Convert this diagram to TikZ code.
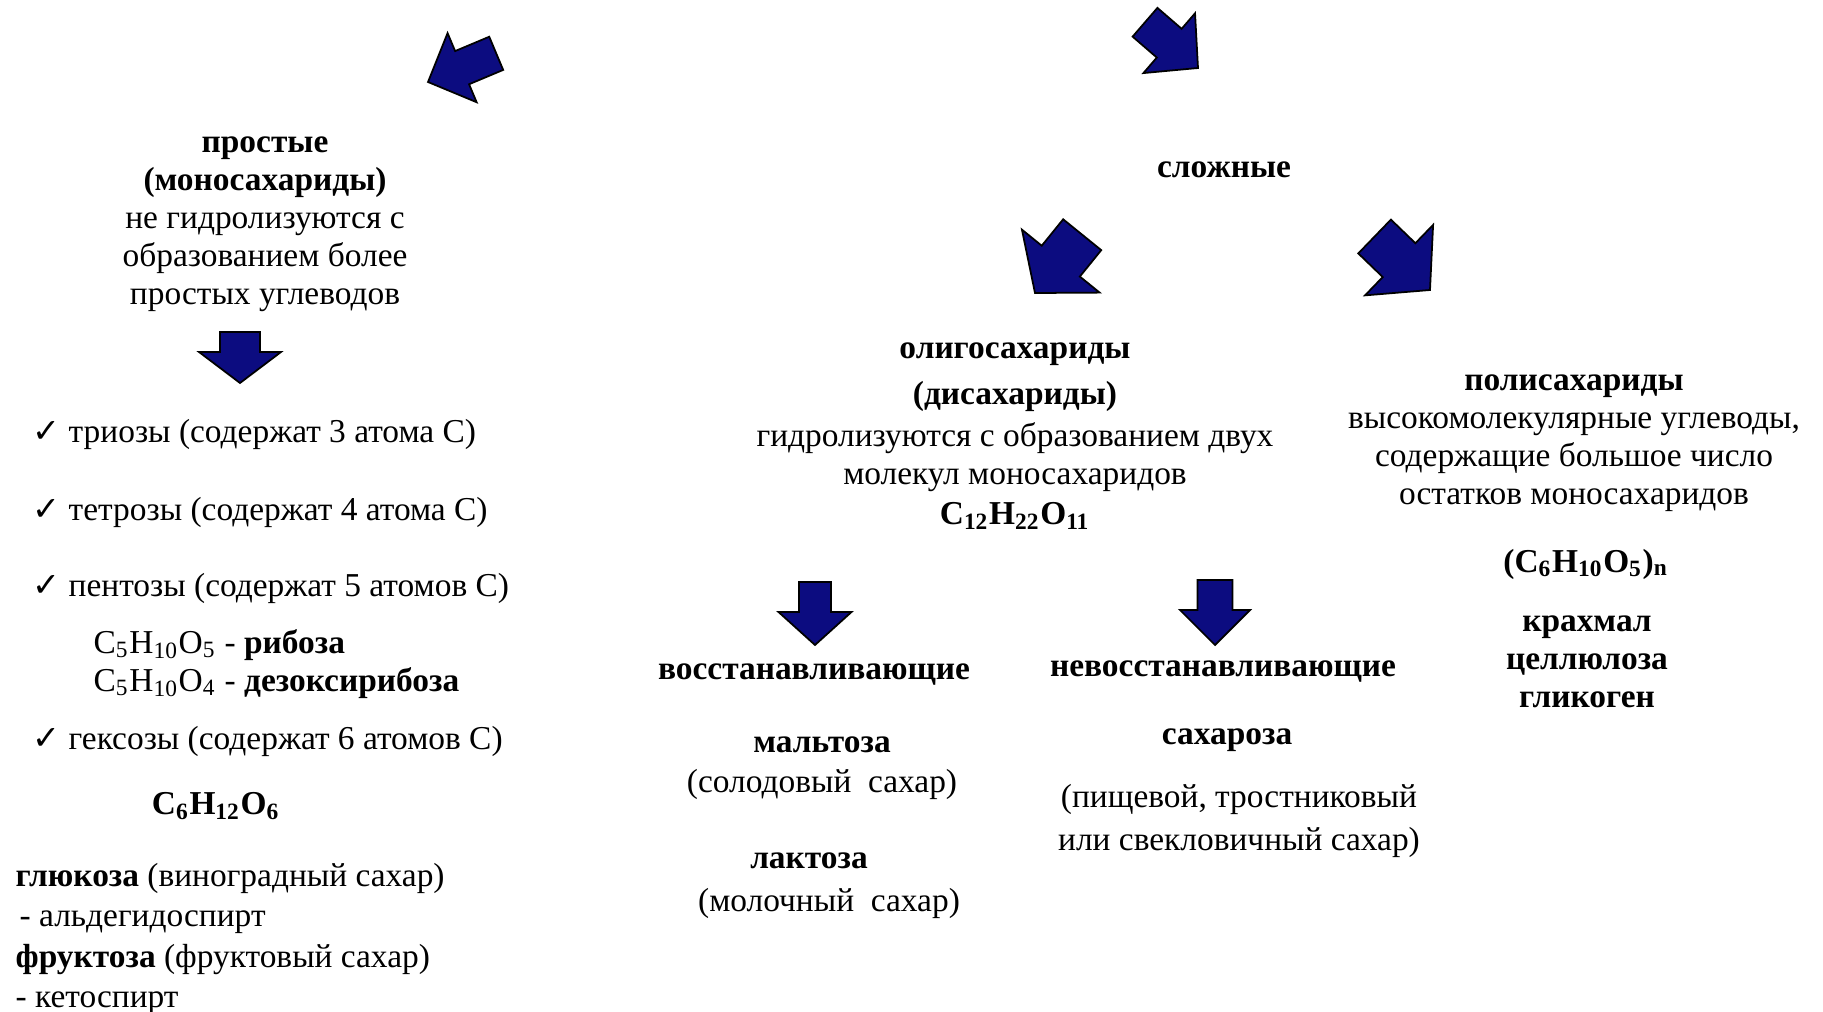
\documentclass[tikz,border=0pt]{standalone}
\usepackage{fontspec}
\setmainfont{Liberation Serif}
\newfontfamily\symfont{DejaVu Sans}
\definecolor{arrowblue}{RGB}{12,12,128}
\tikzset{
	txt/.style={inner sep=0pt, align=center, font=\fontsize{9.5pt}{10.8pt}\selectfont},
	pics/blockarrow/.style args={#1/#2/#3/#4}{code={
		\filldraw[fill=arrowblue, draw=black, line width=0.5pt, line join=miter] (0,0) -- (-#4,#2/2) -- (-#4,#1/2) -- (-#4-#3,#1/2) -- (-#4-#3,-#1/2) -- (-#4,-#1/2) -- (-#4,-#2/2) -- cycle;
	}}
}
\newcommand\chk{\makebox[0.36cm][l]{\symfont ✓}}
\begin{document}
\begin{tikzpicture}[x=0.01cm, y=-0.01cm]
	\useasboundingbox (0,0) rectangle (1823,1012);
	\pic[rotate=202.8] (arrsimple) at (428,82) {blockarrow={36/75/37/37}};
	\pic[rotate=-40.8] (arrcomplex) at (1198,68) {blockarrow={38/79/32/38}};
	\pic[rotate=231] (arroligo) at (1035,293) {blockarrow={49/100/34/41}};
	\pic[rotate=-44] (arrpoly) at (1430,290) {blockarrow={47/98/34/43}};
	\pic[rotate=-90] (arrmono) at (240,383) {blockarrow={40/82/20/31}};
	\pic[rotate=-90] (arrred) at (815,645) {blockarrow={32/73/30/33}};
	\pic[rotate=-90] (arrnonred) at (1215,645) {blockarrow={35/70/30/35}};

	\node[txt] (simple) at (265,224) {\textbf{простые}\\\textbf{(моносахариды)}\\не гидролизуются с\\образованием более\\простых углеводов};
	\node[txt, anchor=west] (triose) at (32,434) {\chk триозы (содержат 3 атома C)};
	\node[txt, anchor=west] (tetrose) at (32,512) {\chk тетрозы (содержат 4 атома C)};
	\node[txt, anchor=west] (pentose) at (32,588) {\chk пентозы (содержат 5 атомов C)};
	\node[txt, anchor=west, align=left] (ribose) at (93,664) {C\textsubscript{5}H\textsubscript{10}O\textsubscript{5} - \textbf{рибоза}\\C\textsubscript{5}H\textsubscript{10}O\textsubscript{4} - \textbf{дезоксирибоза}};
	\node[txt, anchor=west] (hexose) at (32,741) {\chk гексозы (содержат 6 атомов C)};
	\node[txt] (hexformula) at (216,806) {\textbf{C\textsubscript{6}H\textsubscript{12}O\textsubscript{6}}};
	\node[txt, anchor=west, align=left, font=\fontsize{9.5pt}{11.4pt}\selectfont] (glucose) at (15,939) {\textbf{глюкоза} (виноградный сахар)\\\hspace{0.04cm}- альдегидоспирт\\\textbf{фруктоза} (фруктовый сахар)\\- кетоспирт};

	\node[txt] (complex) at (1224,170) {\textbf{сложные}};
	\node[txt] (oligo) at (1015,377) {\textbf{олигосахариды}\\[2.3pt]\textbf{(дисахариды)}};
	\node[txt] (oligotext) at (1015,457) {гидролизуются с образованием двух\\молекул моносахаридов};
	\node[txt] (oligoformula) at (1015,516) {\textbf{C\textsubscript{12}H\textsubscript{22}O\textsubscript{11}}};
	\node[txt] (poly) at (1574,443) {\textbf{полисахариды}\\высокомолекулярные углеводы,\\содержащие большое число\\остатков моносахаридов};
	\node[txt] (polyformula) at (1586,564) {\textbf{(C\textsubscript{6}H\textsubscript{10}O\textsubscript{5})\textsubscript{n}}};
	\node[txt] (polylist) at (1587,662) {\textbf{крахмал}\\\textbf{целлюлоза}\\\textbf{гликоген}};

	\node[txt] (reducing) at (814,675) {\textbf{восстанавливающие}};
	\node[txt] (nonreducing) at (1223,672) {\textbf{невосстанавливающие}};
	\node[txt] (maltose) at (822,745) {\textbf{мальтоза}};
	\node[txt] (maltosetext) at (822,784) {(солодовый\ \ сахар)};
	\node[txt] (lactose) at (809,861) {\textbf{лактоза}};
	\node[txt] (lactosetext) at (829,903) {(молочный\ \ сахар)};
	\node[txt] (sucrose) at (1227,740) {\textbf{сахароза}};
	\node[txt, font=\fontsize{9.5pt}{12pt}\selectfont] (sucrosetext) at (1239,821) {(пищевой, тростниковый\\или свекловичный сахар)};
\end{tikzpicture}
\end{document}
